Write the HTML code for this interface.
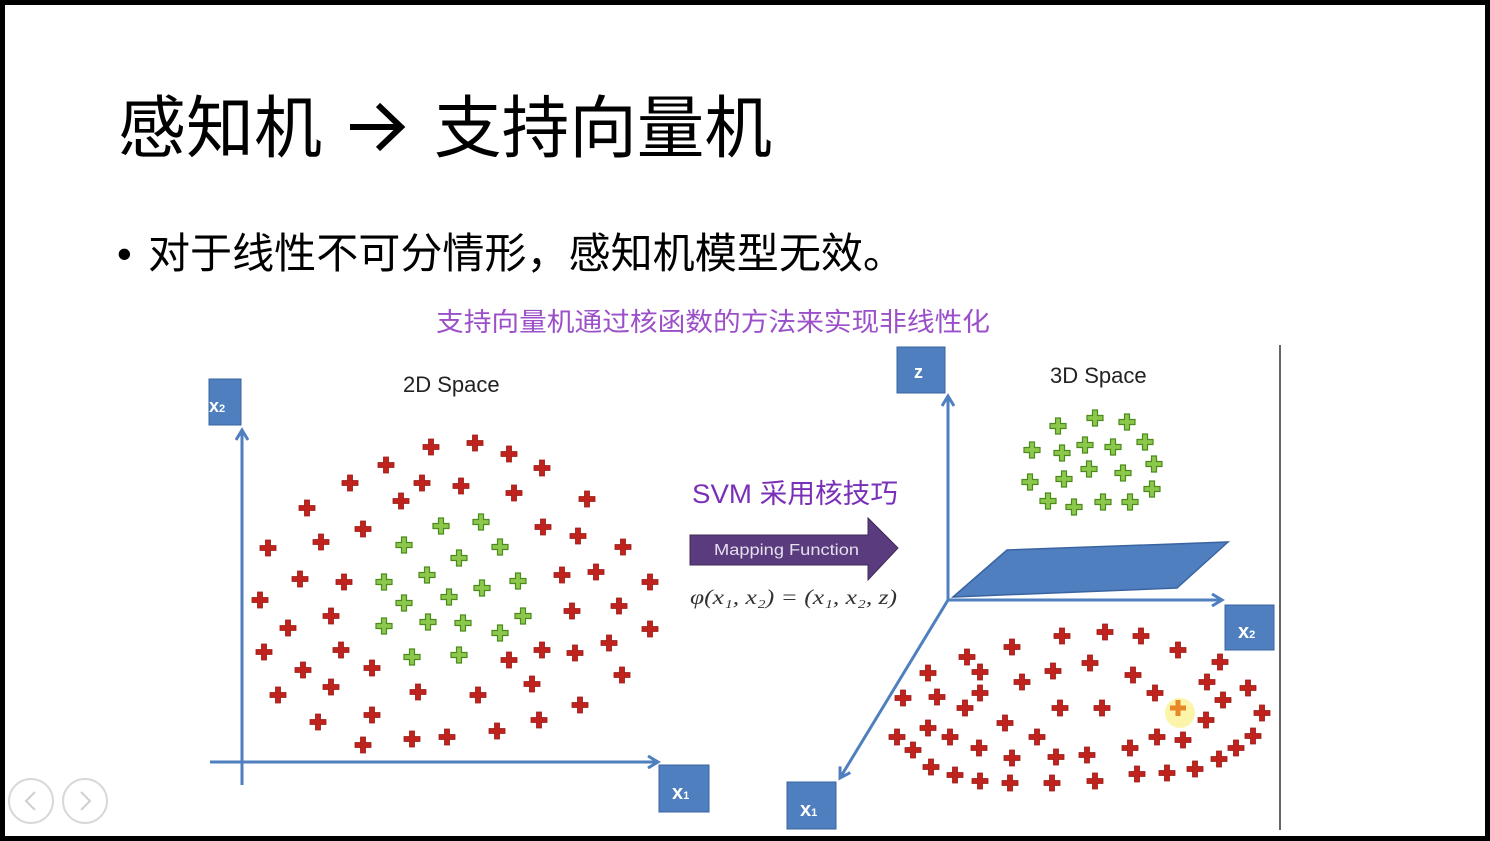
<!DOCTYPE html>
<html><head><meta charset="utf-8"><style>
html,body{margin:0;padding:0;background:#000;}
svg{display:block;}
</style></head><body>
<svg width="1490" height="841" viewBox="0 0 1490 841" xmlns="http://www.w3.org/2000/svg">
<defs>
<path id="r" d="M-2.5,-8h5v5.5h5.5v5h-5.5v5.5h-5v-5.5h-5.5v-5h5.5z" fill="#c0231d" stroke="#9a1a15" stroke-width="0.8"/>
<path id="g" d="M-2.5,-8h5v5.5h5.5v5h-5.5v5.5h-5v-5.5h-5.5v-5h5.5z" fill="#8cc84b" stroke="#4c8a1e" stroke-width="1.2"/>
<marker id="ah" markerWidth="14" markerHeight="14" refX="11" refY="7" orient="auto" markerUnits="userSpaceOnUse"><path d="M1,1 L11,7 L1,13" fill="none" stroke="#4f7fbf" stroke-width="3"/></marker>
</defs>
<rect x="0" y="0" width="1490" height="841" fill="#000"/>
<rect x="5" y="5" width="1480" height="831" fill="#fff"/>
<g font-family="Liberation Sans, 'Noto Sans CJK SC', sans-serif">
<text x="118" y="152" font-size="68" fill="#000" textLength="204" lengthAdjust="spacingAndGlyphs">感知机</text>
<text x="434" y="152" font-size="68" fill="#000" textLength="338" lengthAdjust="spacingAndGlyphs">支持向量机</text>
<text x="117" y="268" font-size="42" fill="#000">•</text>
<text x="148" y="268" font-size="42" fill="#000" textLength="757" lengthAdjust="spacingAndGlyphs">对于线性不可分情形，感知机模型无效。</text>
<text x="436" y="331" font-size="26" fill="#9b4fc8" textLength="554" lengthAdjust="spacingAndGlyphs">支持向量机通过核函数的方法来实现非线性化</text>
<text x="403" y="392" font-size="22" fill="#222">2D Space</text>
<text x="1050" y="383" font-size="22" fill="#222">3D Space</text>
<text x="692" y="503" font-size="27" fill="#7a2fb8" textLength="206" lengthAdjust="spacingAndGlyphs">SVM 采用核技巧</text>
</g>
<path d="M350,127 H400 M378,105 L401,127 L378,149" fill="none" stroke="#000" stroke-width="6" stroke-linejoin="miter"/>
<!-- left axes -->
<line x1="242" y1="785" x2="242" y2="430" stroke="#4f7fbf" stroke-width="3" marker-end="url(#ah)"/>
<line x1="210" y1="762" x2="658" y2="762" stroke="#4f7fbf" stroke-width="3" marker-end="url(#ah)"/>
<rect x="209" y="379" width="32" height="46" fill="#4f7fbf" stroke="#3a64a0"/>
<text x="209" y="412" font-family="Liberation Sans, sans-serif" font-weight="bold" font-size="18" fill="#fff">x<tspan font-size="11">2</tspan></text>
<rect x="659" y="765" width="50" height="47" fill="#4f7fbf" stroke="#3a64a0"/>
<text x="672" y="799" font-family="Liberation Sans, sans-serif" font-weight="bold" font-size="20" fill="#fff">x<tspan font-size="11">1</tspan></text>
<g>
<use href="#r" x="431" y="447"/><use href="#r" x="475" y="443"/><use href="#r" x="509" y="454"/><use href="#r" x="542" y="468"/><use href="#r" x="386" y="465"/><use href="#r" x="422" y="483"/><use href="#r" x="461" y="486"/><use href="#r" x="514" y="493"/><use href="#r" x="587" y="499"/><use href="#r" x="350" y="483"/><use href="#r" x="401" y="501"/><use href="#r" x="307" y="508"/><use href="#r" x="363" y="529"/><use href="#r" x="543" y="527"/><use href="#r" x="578" y="536"/><use href="#r" x="268" y="548"/><use href="#r" x="321" y="542"/><use href="#r" x="623" y="547"/><use href="#r" x="300" y="579"/><use href="#r" x="344" y="582"/><use href="#r" x="562" y="575"/><use href="#r" x="596" y="572"/><use href="#r" x="650" y="582"/><use href="#r" x="260" y="600"/><use href="#r" x="331" y="616"/><use href="#r" x="572" y="611"/><use href="#r" x="619" y="606"/><use href="#r" x="288" y="628"/><use href="#r" x="650" y="629"/><use href="#r" x="264" y="652"/><use href="#r" x="341" y="650"/><use href="#r" x="542" y="650"/><use href="#r" x="575" y="653"/><use href="#r" x="609" y="643"/><use href="#r" x="509" y="660"/><use href="#r" x="303" y="670"/><use href="#r" x="372" y="668"/><use href="#r" x="622" y="675"/><use href="#r" x="278" y="695"/><use href="#r" x="331" y="687"/><use href="#r" x="418" y="692"/><use href="#r" x="478" y="695"/><use href="#r" x="532" y="684"/><use href="#r" x="318" y="722"/><use href="#r" x="372" y="715"/><use href="#r" x="580" y="705"/><use href="#r" x="539" y="720"/><use href="#r" x="363" y="745"/><use href="#r" x="412" y="739"/><use href="#r" x="447" y="737"/><use href="#r" x="497" y="731"/>
</g>
<g>
<use href="#g" x="441" y="526"/><use href="#g" x="481" y="522"/><use href="#g" x="404" y="545"/><use href="#g" x="459" y="558"/><use href="#g" x="500" y="547"/><use href="#g" x="384" y="582"/><use href="#g" x="427" y="575"/><use href="#g" x="518" y="581"/><use href="#g" x="482" y="588"/><use href="#g" x="404" y="603"/><use href="#g" x="449" y="597"/><use href="#g" x="523" y="616"/><use href="#g" x="384" y="626"/><use href="#g" x="428" y="622"/><use href="#g" x="463" y="623"/><use href="#g" x="500" y="633"/><use href="#g" x="412" y="657"/><use href="#g" x="459" y="655"/>
</g>
<path d="M690,535 H868 V518 L898,548 L868,580 V565 H690 Z" fill="#5a3c7e" stroke="#3f2a5a" stroke-width="1"/>
<text x="714" y="555" font-family="Liberation Sans, sans-serif" font-size="16" fill="#e6e0ee" textLength="145" lengthAdjust="spacingAndGlyphs">Mapping Function</text>
<text x="690" y="604" font-family="Liberation Serif, serif" font-style="italic" font-size="21" fill="#333" textLength="207" lengthAdjust="spacingAndGlyphs">φ(x₁, x₂) = (x₁, x₂, z)</text>
<line x1="1280" y1="345" x2="1280" y2="830" stroke="#333" stroke-width="1.5"/>
<polygon points="953,597 1007,550 1228,542 1177,588" fill="#4f7fbf" stroke="#3a64a0" stroke-width="1.5"/>
<line x1="948" y1="600" x2="948" y2="396" stroke="#4f7fbf" stroke-width="3" marker-end="url(#ah)"/>
<line x1="948" y1="600" x2="1222" y2="600" stroke="#4f7fbf" stroke-width="3" marker-end="url(#ah)"/>
<line x1="948" y1="600" x2="840" y2="778" stroke="#4f7fbf" stroke-width="3" marker-end="url(#ah)"/>
<rect x="897" y="347" width="48" height="46" fill="#4f7fbf" stroke="#3a64a0"/>
<text x="914" y="378" font-family="Liberation Sans, sans-serif" font-weight="bold" font-size="18" fill="#fff">z</text>
<rect x="1225" y="605" width="49" height="45" fill="#4f7fbf" stroke="#3a64a0"/>
<text x="1238" y="638" font-family="Liberation Sans, sans-serif" font-weight="bold" font-size="20" fill="#fff">x<tspan font-size="11">2</tspan></text>
<rect x="787" y="782" width="49" height="47" fill="#4f7fbf" stroke="#3a64a0"/>
<text x="800" y="816" font-family="Liberation Sans, sans-serif" font-weight="bold" font-size="20" fill="#fff">x<tspan font-size="11">1</tspan></text>
<g>
<use href="#g" x="1058" y="426"/><use href="#g" x="1095" y="418"/><use href="#g" x="1127" y="422"/><use href="#g" x="1032" y="450"/><use href="#g" x="1062" y="453"/><use href="#g" x="1085" y="445"/><use href="#g" x="1113" y="447"/><use href="#g" x="1145" y="442"/><use href="#g" x="1154" y="464"/><use href="#g" x="1089" y="469"/><use href="#g" x="1123" y="473"/><use href="#g" x="1030" y="482"/><use href="#g" x="1064" y="479"/><use href="#g" x="1152" y="489"/><use href="#g" x="1048" y="501"/><use href="#g" x="1074" y="507"/><use href="#g" x="1103" y="502"/><use href="#g" x="1130" y="502"/>
</g>
<circle cx="1180" cy="713" r="15" fill="#fbf3a0" opacity="0.9"/>
<g>
<use href="#r" x="1062" y="636"/><use href="#r" x="1105" y="632"/><use href="#r" x="1141" y="636"/><use href="#r" x="1178" y="650"/><use href="#r" x="1220" y="662"/><use href="#r" x="1012" y="647"/><use href="#r" x="967" y="657"/><use href="#r" x="980" y="672"/><use href="#r" x="928" y="673"/><use href="#r" x="1053" y="671"/><use href="#r" x="1090" y="663"/><use href="#r" x="1133" y="675"/><use href="#r" x="1022" y="682"/><use href="#r" x="1207" y="682"/><use href="#r" x="1248" y="688"/><use href="#r" x="903" y="698"/><use href="#r" x="937" y="697"/><use href="#r" x="980" y="693"/><use href="#r" x="965" y="708"/><use href="#r" x="1155" y="693"/><use href="#r" x="1223" y="700"/><use href="#r" x="1060" y="708"/><use href="#r" x="1102" y="708"/><use href="#r" x="1262" y="713"/><use href="#r" x="1005" y="723"/><use href="#r" x="1206" y="720"/><use href="#r" x="928" y="728"/><use href="#r" x="897" y="737"/><use href="#r" x="950" y="737"/><use href="#r" x="1037" y="737"/><use href="#r" x="1157" y="737"/><use href="#r" x="1183" y="740"/><use href="#r" x="1253" y="736"/><use href="#r" x="913" y="750"/><use href="#r" x="979" y="748"/><use href="#r" x="1012" y="758"/><use href="#r" x="1056" y="757"/><use href="#r" x="1087" y="755"/><use href="#r" x="1130" y="748"/><use href="#r" x="1236" y="748"/><use href="#r" x="1219" y="759"/><use href="#r" x="931" y="767"/><use href="#r" x="955" y="775"/><use href="#r" x="980" y="781"/><use href="#r" x="1010" y="783"/><use href="#r" x="1052" y="783"/><use href="#r" x="1095" y="781"/><use href="#r" x="1137" y="774"/><use href="#r" x="1167" y="773"/><use href="#r" x="1195" y="769"/>
</g>
<path d="M-2.5,-8h5v5.5h5.5v5h-5.5v5.5h-5v-5.5h-5.5v-5h5.5z" transform="translate(1178,708)" fill="#e8862a"/>
<circle cx="31" cy="801" r="22" fill="#fff" stroke="#d8d8d8" stroke-width="2"/>
<path d="M35,792 L26,801 L35,810" fill="none" stroke="#d0d0d0" stroke-width="2"/>
<circle cx="85" cy="801" r="22" fill="#fff" stroke="#d8d8d8" stroke-width="2"/>
<path d="M81,792 L90,801 L81,810" fill="none" stroke="#d0d0d0" stroke-width="2"/>
</svg>
</body></html>
